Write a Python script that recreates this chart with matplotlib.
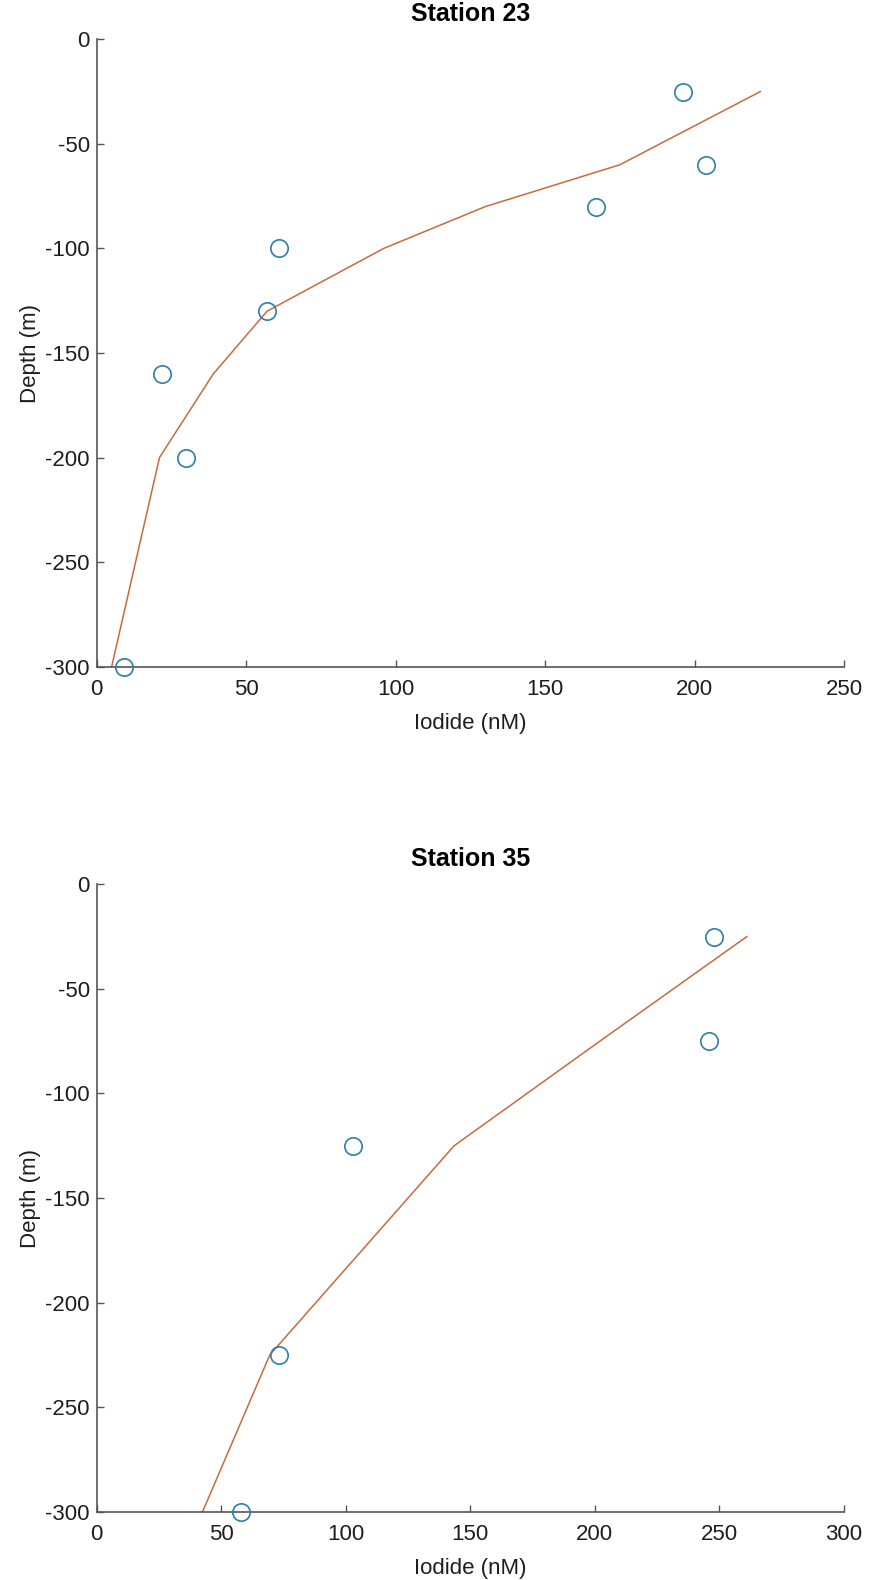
import matplotlib
matplotlib.use("Agg")
import matplotlib.pyplot as plt

plt.rcParams['font.family'] = ['Liberation Sans', 'DejaVu Sans']
plt.rcParams['axes.unicode_minus'] = False

# Station 23 data
s23_obs_iodide = [9, 22, 30, 57, 61, 167, 196, 204]
s23_obs_depth = [-300, -160, -200, -130, -100, -80, -25, -60]
s23_fit_iodide = [5, 21, 39, 57, 96, 130, 175, 222]
s23_fit_depth = [-300, -200, -160, -130, -100, -80, -60, -25]
s23_xticks = [0, 50, 100, 150, 200, 250]

# Station 35 data
s35_obs_iodide = [58, 73, 103, 246, 248]
s35_obs_depth = [-300, -225, -125, -75, -25]
s35_fit_iodide = [42.5, 69.5, 143.5, 202, 261]
s35_fit_depth = [-300, -225, -125, -75, -25]
s35_xticks = [0, 50, 100, 150, 200, 250, 300]

yticks = [0, -50, -100, -150, -200, -250, -300]

W, H = 874, 1580
fig = plt.figure(figsize=(W / 100, H / 100), dpi=100)

axcol = '#555555'
mcol = '#2f7ea6'
lcol = '#c96a3e'
tcol = '#1e1e1e'

def make_ax(rect, title, ox, oy, fx, fy, xlim, xticks):
    ax = fig.add_axes(rect)
    ax.plot(fx, fy, color=lcol, lw=1.1, zorder=2)
    ax.plot(ox, oy, 'o', mfc='none', mec=mcol, mew=1.2, ms=12.5, ls='none',
            clip_on=False, zorder=3)
    ax.set_xlim(*xlim)
    ax.set_ylim(-300, 0)
    ax.set_xticks(xticks)
    ax.set_yticks(yticks)
    for s in ['top', 'right']:
        ax.spines[s].set_visible(False)
    for s in ['left', 'bottom']:
        ax.spines[s].set_color(axcol)
        ax.spines[s].set_linewidth(1.2)
    ax.tick_params(direction='in', length=5, width=1.0, color=axcol,
                   labelsize=16, labelcolor=tcol)
    ax.tick_params(axis='x', pad=9)
    ax.tick_params(axis='y', pad=5)
    ax.set_title(title, fontsize=18, fontweight='bold', pad=13, color='black')
    ax.set_xlabel('Iodide (nM)', fontsize=16, labelpad=9, color=tcol)
    ax.set_ylabel('Depth (m)', fontsize=16, labelpad=3, color=tcol)
    return ax

left = 96.7 / W
width = (844 - 96.7) / W
h = (666.7 - 39.3) / H

make_ax([left, (H - 666.7) / H, width, h], 'Station 23',
        s23_obs_iodide, s23_obs_depth, s23_fit_iodide, s23_fit_depth,
        (0, 250), s23_xticks)
make_ax([left, (H - 1511.7) / H, width, h], 'Station 35',
        s35_obs_iodide, s35_obs_depth, s35_fit_iodide, s35_fit_depth,
        (0, 300), s35_xticks)

fig.savefig('out.png', dpi=100)
